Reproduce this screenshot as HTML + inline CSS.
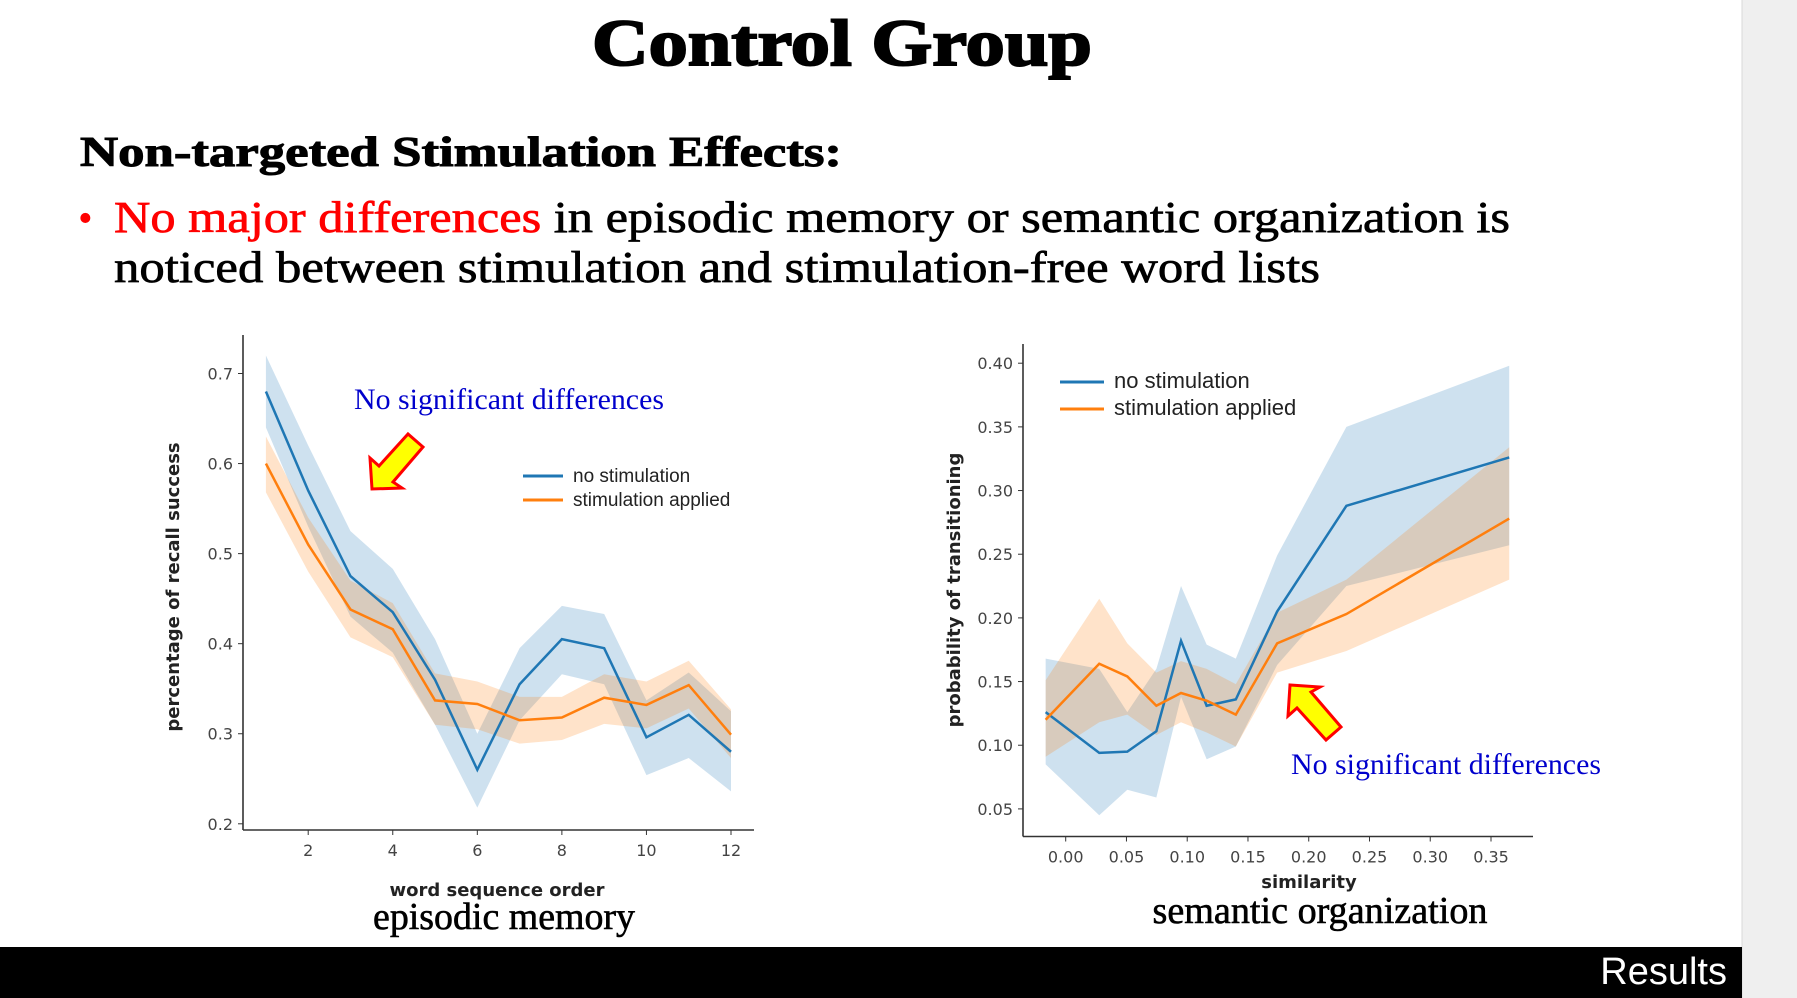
<!DOCTYPE html>
<html><head><meta charset="utf-8"><style>
html,body{margin:0;padding:0;background:#fff;}
svg{display:block;}
.tick{font-family:"DejaVu Sans","Liberation Sans",sans-serif;font-size:16px;fill:#444;}
</style></head><body>
<svg id="page" width="1797" height="998" viewBox="0 0 1797 998" xmlns="http://www.w3.org/2000/svg">
<rect x="1742" y="0" width="55" height="998" fill="#efefef"/>
<line x1="1742" y1="0" x2="1742" y2="998" stroke="#d8d8d8"/>
<text x="842" y="65" text-anchor="middle" font-family="Liberation Serif,serif" font-weight="bold" font-size="66" textLength="500" lengthAdjust="spacingAndGlyphs" stroke="#000" stroke-width="2">Control Group</text>
<text x="80" y="166" font-family="Liberation Serif,serif" font-weight="bold" font-size="42" textLength="762" lengthAdjust="spacingAndGlyphs" stroke="#000" stroke-width="1">Non-targeted Stimulation Effects:</text>
<text x="78" y="232" font-family="Liberation Serif,serif" font-size="42" fill="#f00">•</text>
<text x="114" y="232" font-family="Liberation Serif,serif" font-size="44" textLength="1396" lengthAdjust="spacingAndGlyphs" stroke="#000" stroke-width="0.7"><tspan fill="#f00" stroke="#f00">No major differences</tspan> in episodic memory or semantic organization is</text>
<text x="114" y="282" font-family="Liberation Serif,serif" font-size="44" textLength="1206" lengthAdjust="spacingAndGlyphs" stroke="#000" stroke-width="0.7">noticed between stimulation and stimulation-free word lists</text>

<g id="c1"></g>
<g id="c2"></g>

<text x="509" y="409" text-anchor="middle" font-family="Liberation Serif,serif" font-size="30" fill="#0000cc" textLength="310" lengthAdjust="spacingAndGlyphs">No significant differences</text>
<polygon points="370,458 379,466 408,434 423,447 393,482 402,488 372,489" fill="#ffff00" stroke="#f00" stroke-width="3"/>
<text x="1446" y="774" text-anchor="middle" font-family="Liberation Serif,serif" font-size="30" fill="#0000cc" textLength="310" lengthAdjust="spacingAndGlyphs">No significant differences</text>
<polygon points="1288,716 1297,708 1326,740 1341,727 1311,692 1320,687 1290,685" fill="#ffff00" stroke="#f00" stroke-width="3"/>

<text x="504" y="929" text-anchor="middle" font-family="Liberation Serif,serif" font-size="38" textLength="262" lengthAdjust="spacingAndGlyphs" stroke="#000" stroke-width="0.6">episodic memory</text>
<text x="1320" y="923" text-anchor="middle" font-family="Liberation Serif,serif" font-size="38" textLength="335" lengthAdjust="spacingAndGlyphs" stroke="#000" stroke-width="0.6">semantic organization</text>

<rect x="0" y="947" width="1742" height="51" fill="#000"/>
<text x="1727" y="984" text-anchor="end" font-family="Liberation Sans,sans-serif" font-size="38" fill="#fff">Results</text>
</svg>
<script>
// Chart 1 data
const c1X = [1,2,3,4,5,6,7,8,9,10,11,12];
const c1Blue = [0.68,0.57,0.475,0.435,0.36,0.26,0.355,0.405,0.395,0.296,0.321,0.28];
const c1BlueLo = [0.64,0.53,0.43,0.39,0.31,0.218,0.315,0.366,0.355,0.254,0.273,0.236];
const c1BlueHi = [0.72,0.62,0.525,0.483,0.405,0.30,0.395,0.442,0.433,0.337,0.368,0.325];
const c1Orange = [0.60,0.51,0.438,0.416,0.337,0.333,0.315,0.318,0.34,0.332,0.354,0.299];
const c1OrangeLo = [0.568,0.48,0.407,0.385,0.31,0.305,0.289,0.293,0.311,0.306,0.328,0.273];
const c1OrangeHi = [0.63,0.54,0.47,0.445,0.367,0.358,0.341,0.341,0.366,0.358,0.381,0.327];
const c1YTicks = [0.2,0.3,0.4,0.5,0.6,0.7];
const c1XTicks = [2,4,6,8,10,12];
// Chart 2 data
const c2X = [-0.0165,0.0276,0.0507,0.0746,0.0949,0.116,0.140,0.174,0.231,0.365];
const c2Blue = [0.126,0.094,0.095,0.111,0.182,0.131,0.136,0.205,0.288,0.326];
const c2BlueLo = [0.085,0.045,0.065,0.059,0.138,0.089,0.099,0.163,0.225,0.257];
const c2BlueHi = [0.168,0.160,0.126,0.160,0.225,0.179,0.168,0.249,0.350,0.398];
const c2Orange = [0.120,0.164,0.154,0.131,0.141,0.135,0.124,0.180,0.203,0.278];
const c2OrangeLo = [0.091,0.118,0.124,0.108,0.118,0.110,0.099,0.157,0.174,0.230];
const c2OrangeHi = [0.151,0.215,0.180,0.157,0.166,0.160,0.148,0.204,0.230,0.334];
const c2YTicks = [0.05,0.10,0.15,0.20,0.25,0.30,0.35,0.40];
const c2XTicks = [0.00,0.05,0.10,0.15,0.20,0.25,0.30,0.35];

const NS='http://www.w3.org/2000/svg';
function mk(parent,tag,attrs){const e=document.createElementNS(NS,tag);for(const k in attrs)e.setAttribute(k,attrs[k]);parent.appendChild(e);return e;}
function lin(d0,d1,r0,r1){return v=>r0+(v-d0)*(r1-r0)/(d1-d0);}

function drawChart(g,cfg){
  const {xs,ys,ax,xt,yt,xfmt,yfmt,series,xlabel,ylabel,legend}=cfg;
  let e=mk(g,'line',{x1:ax.left,y1:ax.top,x2:ax.left,y2:ax.bottom,stroke:'#333','stroke-width':1.6});
  
  
  e=mk(g,'line',{x1:ax.left,y1:ax.bottom,x2:ax.right,y2:ax.bottom,stroke:'#333','stroke-width':1.6});
  
  
  yt.forEach(v=>{const y=ys(v);
    let t=mk(g,'line',{x1:ax.left-5,y1:y,x2:ax.left,y2:y,stroke:'#333'});
    
    
    let l=mk(g,'text',{x:ax.left-10,y:y+6,'text-anchor':'end',class:'tick'});l.textContent=yfmt(v);
    
    
  });
  xt.forEach(v=>{const x=xs(v);
    let t=mk(g,'line',{x1:x,y1:ax.bottom,x2:x,y2:ax.bottom+5,stroke:'#333'});
    
    
    let l=mk(g,'text',{x:x,y:ax.bottom+26,'text-anchor':'middle',class:'tick'});l.textContent=xfmt(v);
    
    
  });
  series.forEach(s=>{
    let pts=s.x.map((xv,i)=>xs(xv)+','+ys(s.hi[i]));
    for(let i=s.x.length-1;i>=0;i--)pts.push(xs(s.x[i])+','+ys(s.lo[i]));
    let b=mk(g,'polygon',{points:pts.join(' '),fill:s.color,'fill-opacity':0.22});
    
    
  });
  series.forEach(s=>{
    let p=mk(g,'polyline',{points:s.x.map((xv,i)=>xs(xv)+','+ys(s.y[i])).join(' '),fill:'none',stroke:s.color,'stroke-width':2.5});
    
    
  });
  let xl=mk(g,'text',{x:xlabel.x,y:xlabel.y,'text-anchor':'middle','font-family':'DejaVu Sans,sans-serif','font-weight':'bold','font-size':18,fill:'#222'});
  xl.textContent=xlabel.t;
  
  
  let yl=mk(g,'text',{x:0,y:0,transform:`translate(${ylabel.x},${ylabel.y}) rotate(-90)`,'text-anchor':'middle','font-family':'DejaVu Sans,sans-serif','font-weight':'bold','font-size':18,fill:'#222'});
  yl.textContent=ylabel.t;
  
  
  series.forEach((s,i)=>{
    const y=legend.y+i*legend.dy;
    let ln=mk(g,'line',{x1:legend.x,y1:y,x2:legend.x+legend.w,y2:y,stroke:s.color,'stroke-width':3});
    
    
    let tx=mk(g,'text',{x:legend.x+legend.w+10,y:y+6,'font-family':'Liberation Sans,sans-serif','font-size':legend.fs,fill:'#222'});
    tx.textContent=s.label;
    
    
  });
}
const BLUE='#1f77b4',ORANGE='#ff7f0e';
drawChart(document.getElementById('c1'),{
  xs:lin(2,12,308.2,731), ys:lin(0.2,0.7,823.8,373.5),
  ax:{left:243,right:754,top:335,bottom:830},
  xt:c1XTicks, yt:c1YTicks, xfmt:v=>String(v), yfmt:v=>v.toFixed(1),
  series:[{name:'no-stimulation',label:'no stimulation',color:BLUE,x:c1X,y:c1Blue,lo:c1BlueLo,hi:c1BlueHi},
          {name:'stimulation-applied',label:'stimulation applied',color:ORANGE,x:c1X,y:c1Orange,lo:c1OrangeLo,hi:c1OrangeHi}],
  xlabel:{x:497,y:896,t:'word sequence order'}, ylabel:{x:179,y:587,t:'percentage of recall success'},
  legend:{x:523,y:476,dy:24,w:40,fs:19}
});
drawChart(document.getElementById('c2'),{
  xs:lin(0,0.35,1065.7,1491), ys:lin(0.05,0.40,808.9,363.2),
  ax:{left:1023,right:1533,top:344,bottom:836.5},
  xt:c2XTicks, yt:c2YTicks, xfmt:v=>v.toFixed(2), yfmt:v=>v.toFixed(2),
  series:[{name:'no-stimulation',label:'no stimulation',color:BLUE,x:c2X,y:c2Blue,lo:c2BlueLo,hi:c2BlueHi},
          {name:'stimulation-applied',label:'stimulation applied',color:ORANGE,x:c2X,y:c2Orange,lo:c2OrangeLo,hi:c2OrangeHi}],
  xlabel:{x:1309,y:888,t:'similarity'}, ylabel:{x:960,y:590,t:'probability of transitioning'},
  legend:{x:1060,y:382,dy:27,w:44,fs:22}
});
</script>
</body></html>
